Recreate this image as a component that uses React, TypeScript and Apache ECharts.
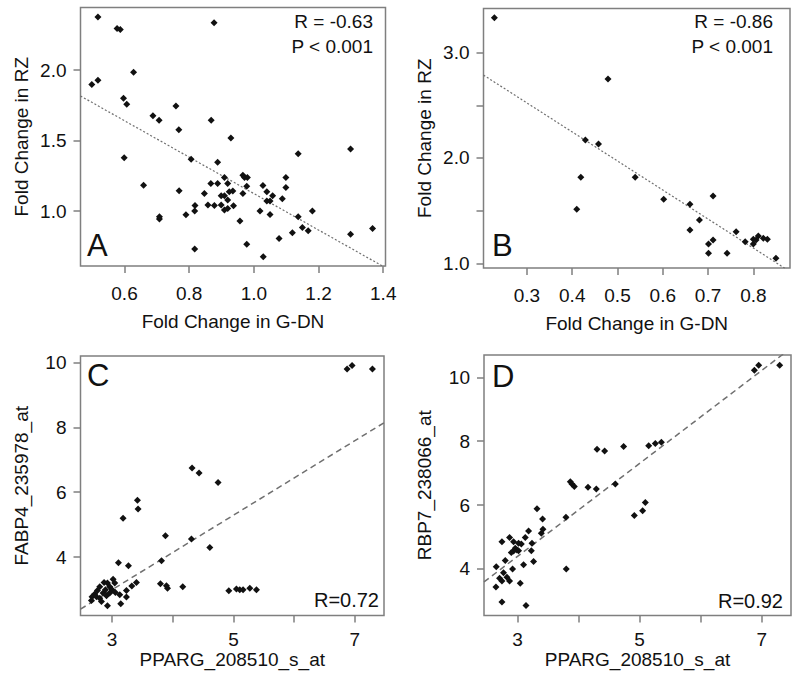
import React, { useEffect, useRef } from "react";
import * as echarts from "echarts";

type Pt = [number, number];

const FONT = "'Liberation Sans', Arial, Helvetica, sans-serif";

// ---- Data ----
const panelA: Pt[] = [
  [0.518, 2.378], [0.577, 2.296], [0.587, 2.289], [0.877, 2.336], [0.499, 1.899], [0.518, 1.929],
  [0.628, 1.986], [0.597, 1.8], [0.607, 1.759], [0.759, 1.745], [0.688, 1.676], [0.707, 1.645],
  [0.868, 1.645], [0.768, 1.577], [0.929, 1.518], [1.299, 1.44], [0.599, 1.378], [0.806, 1.367],
  [0.888, 1.347], [1.137, 1.406], [0.659, 1.184], [0.769, 1.144], [0.847, 1.125], [0.867, 1.196],
  [0.888, 1.196], [0.909, 1.239], [0.919, 1.196], [0.899, 1.109], [0.909, 1.109], [0.924, 1.137],
  [0.935, 1.142], [0.919, 1.078], [0.899, 1.043], [0.878, 1.04], [0.858, 1.043], [0.818, 1.04],
  [0.817, 1.0], [0.79, 0.974], [0.708, 0.96], [0.708, 0.943], [0.909, 1.007], [0.919, 1.019],
  [0.937, 1.038], [0.966, 1.255], [0.971, 1.239], [0.98, 1.239], [0.978, 1.177], [0.966, 1.125],
  [0.957, 0.929], [0.978, 0.764], [0.817, 0.73], [1.029, 0.676], [1.028, 1.182], [1.04, 1.137],
  [1.058, 1.109], [1.04, 1.071], [1.05, 1.071], [1.088, 1.087], [1.099, 1.239], [1.099, 1.168],
  [1.019, 1.0], [1.05, 0.976], [1.078, 0.806], [1.119, 0.846], [1.137, 0.96], [1.15, 0.884],
  [1.168, 0.86], [1.181, 1.0], [1.299, 0.835], [1.367, 0.877],
];

const panelB: Pt[] = [
  [0.228, 3.333], [0.479, 2.75], [0.429, 2.171], [0.458, 2.133], [0.419, 1.817], [0.41, 1.513],
  [0.539, 1.817], [0.602, 1.608], [0.66, 1.56], [0.711, 1.639], [0.681, 1.411], [0.66, 1.316],
  [0.711, 1.221], [0.701, 1.183], [0.701, 1.095], [0.742, 1.095], [0.762, 1.3], [0.782, 1.205],
  [0.8, 1.228], [0.8, 1.183], [0.806, 1.221], [0.811, 1.259], [0.822, 1.237], [0.831, 1.228],
  [0.85, 1.047],
];

const panelC: Pt[] = [
  [6.872, 9.8], [6.954, 9.91], [7.29, 9.8], [4.318, 6.75], [4.433, 6.59], [4.746, 6.3],
  [3.418, 5.75], [3.428, 5.48], [3.181, 5.2], [3.879, 4.66], [4.308, 4.56], [4.61, 4.3],
  [3.814, 3.89], [3.105, 3.83], [3.27, 3.73], [3.402, 3.22], [3.325, 3.11], [3.797, 3.18],
  [3.896, 3.12], [3.913, 3.04], [4.165, 3.09], [4.923, 2.96], [5.049, 3.02], [5.104, 2.99],
  [5.158, 2.99], [5.269, 3.04], [5.379, 2.99], [2.868, 3.22], [2.924, 3.2], [3.017, 3.32],
  [3.044, 3.2], [2.962, 3.09], [3.0, 2.99], [3.055, 2.91], [3.127, 2.84], [3.237, 2.97],
  [3.237, 2.77], [3.143, 2.56], [2.924, 2.5], [2.797, 3.09], [2.759, 2.97], [2.715, 2.86],
  [2.67, 2.78], [2.66, 2.66], [2.743, 2.78], [2.797, 2.73], [2.852, 2.89], [2.891, 2.99],
  [2.825, 2.63], [2.908, 2.81], [2.962, 2.89],
];

const panelD: Pt[] = [
  [6.88, 10.22], [6.951, 10.38], [7.295, 10.38], [4.302, 7.75], [4.426, 7.69], [4.738, 7.83],
  [5.148, 7.86], [5.257, 7.93], [5.356, 7.97], [3.864, 6.73], [3.891, 6.66], [3.93, 6.58],
  [4.154, 6.56], [4.29, 6.5], [4.602, 6.66], [5.093, 6.08], [5.049, 5.82], [4.913, 5.67],
  [3.793, 5.62], [3.318, 5.88], [3.41, 5.56], [3.416, 5.24], [3.389, 5.12], [3.18, 5.19],
  [3.126, 4.98], [3.236, 4.8], [3.225, 4.57], [3.061, 4.78], [3.016, 4.8], [2.934, 4.85],
  [2.869, 4.98], [2.744, 4.85], [2.962, 4.65], [2.99, 4.59], [2.934, 4.56], [2.897, 4.51],
  [3.016, 4.57], [3.262, 4.23], [3.098, 4.13], [2.798, 4.26], [2.918, 4.0], [2.651, 4.07],
  [3.798, 4.0], [2.77, 3.88], [2.705, 3.71], [2.826, 3.74], [2.744, 3.62], [2.869, 3.62],
  [3.044, 3.55], [2.646, 3.43], [2.744, 2.96], [3.138, 2.85],
];

// fitted regression lines: y = intercept + slope * x
const fitIntercepts = [2.417, 3.35, -0.453, 0.024];
const fitSlopes = [-1.293, -2.757, 1.149, 1.456];

// axis ranges
const xMins = [0.464, 0.204, 2.48, 2.45];
const xMaxs = [1.407, 0.881, 7.48, 7.48];
const yMins = [0.61, 0.955, 2.2, 2.54];
const yMaxs = [2.445, 3.42, 10.2, 10.7];

// ticks and labels
const xTicksA = [0.6, 0.8, 1.0, 1.2, 1.4];
const xTicksB = [0.3, 0.4, 0.5, 0.6, 0.7, 0.8];
const xTicksCD = [3, 4, 5, 6, 7];
const xLabelsCD = [3, 5, 7];
const yTicksA = [1.0, 1.5, 2.0];
const yTicksB = [1.0, 1.5, 2.0, 2.5, 3.0];
const yLabelsB = [1.0, 2.0, 3.0];
const yTicksCD = [4, 6, 8, 10];

const xNames = ["Fold Change in G-DN", "Fold Change in G-DN", "PPARG_208510_s_at", "PPARG_208510_s_at"];
const yNames = ["Fold Change in RZ", "Fold Change in RZ", "FABP4_235978_at", "RBP7_238066_at"];
const panelLetters = ["A", "B", "C", "D"];
const statLinesA = ["R = -0.63", "P < 0.001"];
const statLinesB = ["R = -0.86", "P < 0.001"];
const statC = "R=0.72";
const statD = "R=0.92";

// ---- Layout ----
const grids = [
  { left: 80.5, top: 7.5, width: 305, height: 258.5 },
  { left: 483.5, top: 8.5, width: 306.5, height: 259.5 },
  { left: 80.5, top: 356, width: 303.5, height: 259.5 },
  { left: 484, top: 355, width: 307, height: 260.5 },
];

const GRAY = "#7f7f7f";
const TXT = "#111";

function fmt1(v: number) {
  return v.toFixed(1);
}

export default function App() {
  const ref = useRef<HTMLDivElement>(null);

  useEffect(() => {
    if (!ref.current) return;
    const chart = echarts.init(ref.current, undefined, { renderer: "svg" });

    const xTickSets = [xTicksA, xTicksB, xTicksCD, xTicksCD];
    const xLabelSets = [xTicksA, xTicksB, xLabelsCD, xLabelsCD];
    const yTickSets = [yTicksA, yTicksB, yTicksCD, yTicksCD];
    const yLabelSets = [yTicksA, yLabelsB, yTicksCD, yTicksCD];
    const xFormatters = [fmt1, fmt1, (v: number) => String(v), (v: number) => String(v)];
    const yFormatters = [fmt1, fmt1, (v: number) => String(v), (v: number) => String(v)];
    const xNameGaps = [46, 46, 34, 34];
    const xLabelMargins = [18, 18, 14, 14];
    const datasets = [panelA, panelB, panelC, panelD];

    const xAxis = grids.map((_, i) => ({
      type: "value",
      gridIndex: i,
      min: xMins[i],
      max: xMaxs[i],
      name: xNames[i],
      nameLocation: "middle",
      nameGap: xNameGaps[i],
      nameTextStyle: { color: TXT, fontSize: 19, fontFamily: FONT },
      axisLine: { show: false },
      axisTick: {
        show: true,
        length: 7,
        customValues: xTickSets[i],
        lineStyle: { color: GRAY, width: 1.5 },
      },
      axisLabel: {
        show: true,
        customValues: xLabelSets[i],
        formatter: xFormatters[i],
        margin: xLabelMargins[i],
        color: TXT,
        fontSize: 19,
        fontFamily: FONT,
      },
      splitLine: { show: false },
    }));

    const yAxis = grids.map((_, i) => ({
      type: "value",
      gridIndex: i,
      min: yMins[i],
      max: yMaxs[i],
      name: yNames[i],
      nameLocation: "middle",
      nameGap: 50,
      nameTextStyle: { color: TXT, fontSize: 19, fontFamily: FONT },
      axisLine: { show: false },
      axisTick: {
        show: true,
        length: 7,
        customValues: yTickSets[i],
        lineStyle: { color: GRAY, width: 1.5 },
      },
      axisLabel: {
        show: true,
        customValues: yLabelSets[i],
        formatter: yFormatters[i],
        margin: 14,
        color: TXT,
        fontSize: 19,
        fontFamily: FONT,
      },
      splitLine: { show: false },
    }));

    const series: any[] = [];
    grids.forEach((_, i) => {
      const x0 = xMins[i];
      const x1 = xMaxs[i];
      series.push({
        type: "line",
        xAxisIndex: i,
        yAxisIndex: i,
        data: [
          [x0, fitIntercepts[i] + fitSlopes[i] * x0],
          [x1, fitIntercepts[i] + fitSlopes[i] * x1],
        ],
        symbol: "none",
        clip: true,
        silent: true,
        lineStyle: i < 2
          ? { color: "#707070", width: 1.2, type: [2, 2] }
          : { color: "#707070", width: 1.5, type: [6, 4] },
        z: 2,
      });
      series.push({
        type: "scatter",
        xAxisIndex: i,
        yAxisIndex: i,
        data: datasets[i],
        symbol: "diamond",
        symbolSize: 7,
        itemStyle: { color: "#111", opacity: 1 },
        z: 3,
      });
    });

    const textStyle = (x: number, y: number, text: string, size: number, align: string) => ({
      type: "text",
      x,
      y,
      silent: true,
      style: {
        text,
        fill: TXT,
        font: `${size}px ${FONT}`,
        align,
        verticalAlign: "middle",
      },
    });

    const graphic = [
      textStyle(373, 21.7, statLinesA[0], 19, "right"),
      textStyle(373, 46.3, statLinesA[1], 19, "right"),
      textStyle(773, 21.7, statLinesB[0], 19, "right"),
      textStyle(773, 46.3, statLinesB[1], 19, "right"),
      textStyle(379, 600, statC, 20, "right"),
      textStyle(783, 600.5, statD, 20, "right"),
      textStyle(87, 245.5, panelLetters[0], 31, "left"),
      textStyle(492, 245, panelLetters[1], 31, "left"),
      textStyle(87, 375, panelLetters[2], 31, "left"),
      textStyle(492, 376, panelLetters[3], 31, "left"),
    ];

    chart.setOption({
      animation: false,
      backgroundColor: "#fff",
      textStyle: { fontFamily: FONT },
      grid: grids.map((g) => ({
        ...g,
        show: true,
        borderColor: GRAY,
        borderWidth: 1.5,
        backgroundColor: "transparent",
        containLabel: false,
      })),
      xAxis,
      yAxis,
      series,
      graphic,
    });

    return () => chart.dispose();
  }, []);

  return (
    <div
      ref={ref}
      style={{ position: "absolute", left: 0, top: 0, width: 800, height: 684, background: "#fff" }}
    />
  );
}
